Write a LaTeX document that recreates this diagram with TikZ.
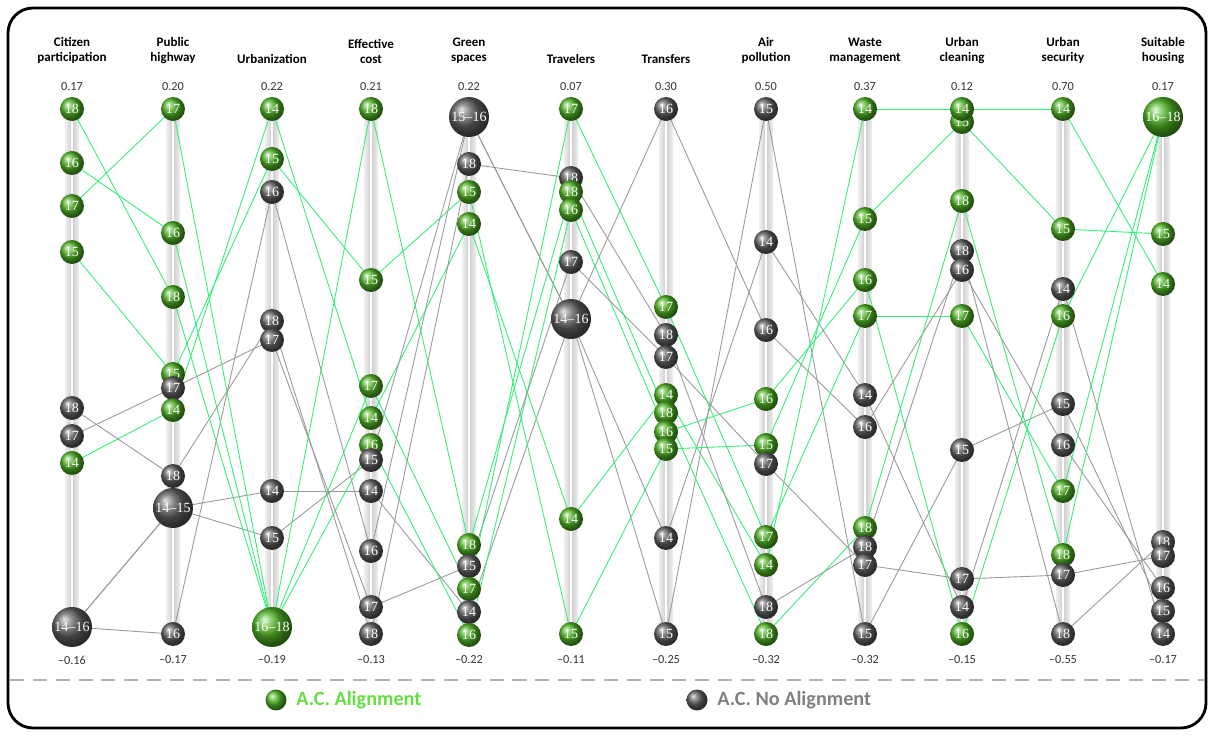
\documentclass[tikz,border=0pt]{standalone}
\usepackage{fontspec}
\setmainfont{Carlito}
\newfontfamily\ballfont{Liberation Serif}
\usetikzlibrary{shadings}
\pgfdeclarelayer{background}\pgfdeclarelayer{mid}
\pgfsetlayers{background,mid,main}
\definecolor{lg}{HTML}{33EE77}
\definecolor{lgt}{HTML}{66DD44}
\definecolor{ballg}{HTML}{4FB424}
\begin{document}
\begin{tikzpicture}[x=0.02cm,y=-0.02cm,
 b/.style={circle,shading=ball,inner sep=0pt,minimum size=0.48cm,text=white,font=\ballfont\fontsize{8}{8}\selectfont},
 g/.style={b,ball color=ballg},
 k/.style={b,ball color=gray!75!black},
 big/.style={minimum size=0.8cm},
 gl/.style={lg,line width=0.5pt},
 kl/.style={gray!80,line width=0.5pt},
 hd/.style={font=\bfseries\fontsize{7.4}{8.8}\selectfont,align=center,anchor=south},
 vl/.style={font=\fontsize{7}{8}\selectfont,text=black!80}]
\useasboundingbox (0,0) rectangle (1214,736);
\draw[line width=1.6pt,rounded corners=0.5cm] (8,8) rectangle (1206,728);
% headers
\foreach \x/\t/\v/\w in {72/Citizen\\participation/0.17/–0.16,173/Public\\highway/0.20/–0.17,272/Urbanization/0.22/–0.19,371/Effective\\cost/0.21/–0.13,469/Green\\spaces/0.22/–0.22,571/Travelers/0.07/–0.11,666/Transfers/0.30/–0.25,766/Air\\pollution/0.50/–0.32,865/Waste\\management/0.37/–0.32,962/Urban\\cleaning/0.12/–0.15,1063/Urban\\security/0.70/–0.55,1163/Suitable\\housing/0.17/–0.17}{
 \node[hd] at (\x,70) {\t};
 \node[vl] at (\x,87) {\v};
 \node[vl] at (\x,660) {\w};
 \begin{pgfonlayer}{background}
 \shade[left color=gray!12,right color=gray!12,middle color=gray!40] (\x-7,105) rectangle (\x+7,638);
 \fill[white] (\x-1,109) rectangle (\x+1,634);
 \end{pgfonlayer}
}
% col1
\node[g] (g1-18) at (72,109) {18};
\node[g] (g1-16) at (72,163) {16};
\node[g] (g1-17) at (72,206) {17};
\node[g] (g1-15) at (72,252) {15};
\node[k] (k1-18) at (72,408) {18};
\node[k] (k1-17) at (72,436) {17};
\node[g] (g1-14) at (72,463) {14};
\node[k,big,alias=k1-15,alias=k1-16] (k1-14) at (72,627) {14–16};
% col2
\node[g] (g2-17) at (173,109) {17};
\node[g] (g2-16) at (173,233) {16};
\node[g] (g2-18) at (173,297) {18};
\node[g] (g2-15) at (173,374) {15};
\node[k] (k2-17) at (173,388) {17};
\node[g] (g2-14) at (173,410) {14};
\node[k] (k2-18) at (173,476) {18};
\node[k,big,alias=k2-15] (k2-14) at (173,508) {14–15};
\node[k] (k2-16) at (173,634) {16};
% col3
\node[g] (g3-14) at (272,109) {14};
\node[g] (g3-15) at (272,159) {15};
\node[k] (k3-16) at (272,192) {16};
\node[k] (k3-18) at (272,321) {18};
\node[k] (k3-17) at (272,340) {17};
\node[k] (k3-14) at (272,491) {14};
\node[k] (k3-15) at (272,538) {15};
\node[g,big,alias=g3-17,alias=g3-18] (g3-16) at (272,627) {16–18};
% col4
\node[g] (g4-18) at (371,109) {18};
\node[g] (g4-15) at (371,280) {15};
\node[g] (g4-17) at (371,386) {17};
\node[g] (g4-14) at (371,418) {14};
\node[g] (g4-16) at (371,445) {16};
\node[k] (k4-15) at (371,460) {15};
\node[k] (k4-14) at (371,491) {14};
\node[k] (k4-16) at (371,551) {16};
\node[k] (k4-17) at (371,607) {17};
\node[k] (k4-18) at (371,634) {18};
% col5
\node[k,big,alias=k5-16] (k5-15) at (469,117) {15–16};
\node[k] (k5-18) at (469,164) {18};
\node[g] (g5-15) at (469,192) {15};
\node[g] (g5-14) at (469,224) {14};
\node[g] (g5-18) at (469,545) {18};
\node[k] (k5-17) at (469,566) {15};
\node[g] (g5-17) at (469,589) {17};
\node[k] (k5-14) at (469,612) {14};
\node[g] (g5-16) at (469,635) {16};
% col6
\node[g] (g6-17) at (571,109) {17};
\node[k] (k6-18) at (571,178) {18};
\node[g] (g6-18) at (571,192) {18};
\node[g] (g6-16) at (571,210) {16};
\node[k] (k6-17) at (571,262) {17};
\node[k,big,alias=k6-15,alias=k6-16] (k6-14) at (571,319) {14–16};
\node[g] (g6-14) at (571,519) {14};
\node[g] (g6-15) at (571,634) {15};
% col7
\node[k] (k7-16) at (666,109) {16};
\node[g] (g7-17) at (666,307) {17};
\node[k] (k7-18) at (666,335) {18};
\node[k] (k7-17) at (666,357) {17};
\node[g] (g7-14) at (666,395) {14};
\node[g] (g7-18) at (666,413) {18};
\node[g] (g7-16) at (666,432) {16};
\node[g] (g7-15) at (666,449) {15};
\node[k] (k7-14) at (666,538) {14};
\node[k] (k7-15) at (666,634) {15};
% col8
\node[k] (k8-15) at (766,109) {15};
\node[k] (k8-14) at (766,242) {14};
\node[k] (k8-16) at (766,330) {16};
\node[g] (g8-16) at (766,399) {16};
\node[g] (g8-15) at (766,445) {15};
\node[k] (k8-17) at (766,464) {17};
\node[g] (g8-17) at (766,537) {17};
\node[g] (g8-14) at (766,565) {14};
\node[k] (k8-18) at (766,607) {18};
\node[g] (g8-18) at (766,634) {18};
% col9
\node[g] (g9-14) at (865,109) {14};
\node[g] (g9-15) at (865,219) {15};
\node[g] (g9-16) at (865,280) {16};
\node[g] (g9-17) at (865,316) {17};
\node[k] (k9-14) at (865,395) {14};
\node[k] (k9-16) at (865,427) {16};
\node[g] (g9-18) at (865,528) {18};
\node[k] (k9-18) at (865,547) {18};
\node[k] (k9-17) at (865,565) {17};
\node[k] (k9-15) at (865,634) {15};
% col10
\node[g] (g10-15) at (962,122) {15};
\node[g] (g10-14) at (962,109) {14};
\node[g] (g10-18) at (962,201) {18};
\node[k] (k10-18) at (962,251) {18};
\node[k] (k10-16) at (962,270) {16};
\node[g] (g10-17) at (962,316) {17};
\node[k] (k10-15) at (962,450) {15};
\node[k] (k10-17) at (962,579) {17};
\node[k] (k10-14) at (962,607) {14};
\node[g] (g10-16) at (962,634) {16};
% col11
\node[g] (g11-14) at (1063,109) {14};
\node[g] (g11-15) at (1063,229) {15};
\node[k] (k11-14) at (1063,289) {14};
\node[g] (g11-16) at (1063,316) {16};
\node[k] (k11-15) at (1063,404) {15};
\node[k] (k11-16) at (1063,445) {16};
\node[g] (g11-17) at (1063,491) {17};
\node[g] (g11-18) at (1063,555) {18};
\node[k] (k11-17) at (1063,575) {17};
\node[k] (k11-18) at (1063,634) {18};
% col12
\node[g,big,alias=g12-17,alias=g12-18] (g12-16) at (1163,117) {16–18};
\node[g] (g12-15) at (1163,234) {15};
\node[g] (g12-14) at (1163,284) {14};
\node[k] (k12-18) at (1163,542) {18};
\node[k] (k12-17) at (1163,556) {17};
\node[k] (k12-16) at (1163,588) {16};
\node[k] (k12-15) at (1163,611) {15};
\node[k] (k12-14) at (1163,634) {14};
\begin{pgfonlayer}{mid}
\foreach \c in {1,...,11}{
 \pgfmathtruncatemacro\d{\c+1}
 \foreach \a in {14,...,18}{
  \draw[kl] (k\c-\a.center) -- (k\d-\a.center);
  \draw[gl] (g\c-\a.center) -- (g\d-\a.center);
 }}
\end{pgfonlayer}
% legend
\draw[gray!60,line width=1.5pt,dash pattern=on 8pt off 5pt] (10,680) -- (1204,680);
\node[g,minimum size=0.42cm] (lg1) at (276,700) {};
\node[anchor=west,text=lgt,font=\bfseries\fontsize{11.5}{13}\selectfont] (lt1) at (lg1.east) {\,A.C. Alignment};
\node[k,minimum size=0.42cm] (lg2) at (697,700) {};
\node[anchor=west,text=gray,font=\bfseries\fontsize{11.5}{13}\selectfont] (lt2) at (lg2.east) {\,A.C. No Alignment};
\end{tikzpicture}
\end{document}
